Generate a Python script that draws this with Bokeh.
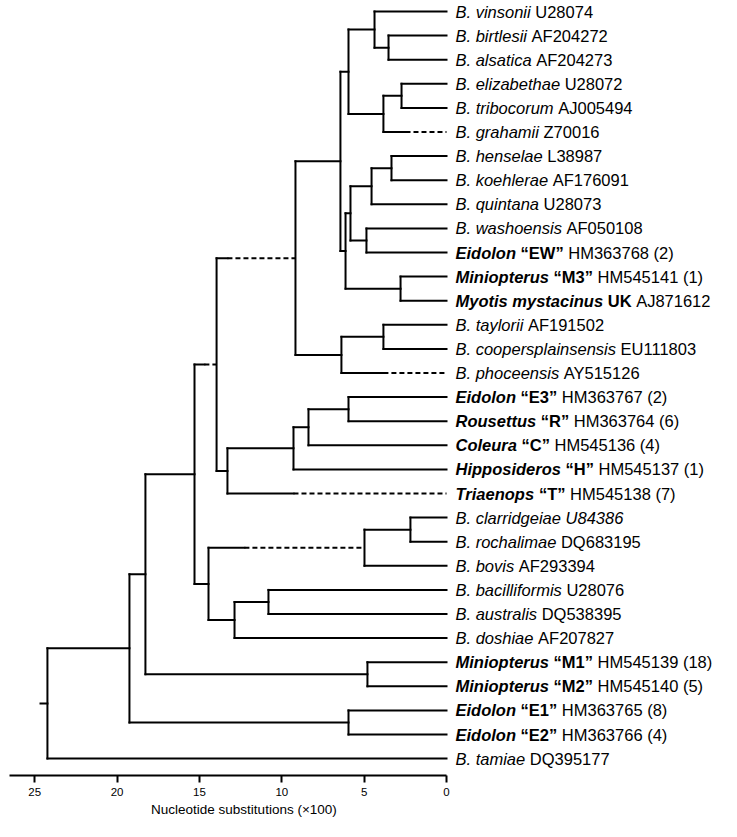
from bokeh.plotting import figure
from bokeh.models import ColumnDataSource, Range1d, FixedTicker, Title
from bokeh.core.properties import value
from bokeh.embed import file_html
from bokeh.resources import INLINE

# ---------------- data ----------------
# leaves, top to bottom
taxa = ["B. vinsonii", "B. birtlesii", "B. alsatica", "B. elizabethae", "B. tribocorum",
        "B. grahamii", "B. henselae", "B. koehlerae", "B. quintana", "B. washoensis",
        "Eidolon", "Miniopterus", "Myotis mystacinus", "B. taylorii", "B. coopersplainsensis",
        "B. phoceensis", "Eidolon", "Rousettus", "Coleura", "Hipposideros", "Triaenops",
        "B. clarridgeiae", "B. rochalimae", "B. bovis", "B. bacilliformis", "B. australis",
        "B. doshiae", "Miniopterus", "Miniopterus", "Eidolon", "Eidolon", "B. tamiae"]
taxon_bold = [False] * 10 + [True, True, True] + [False] * 3 + [True] * 5 + [False] * 6 + [True] * 4 + [False]
tags = [""] * 10 + ["\u201cEW\u201d", "\u201cM3\u201d", "UK"] + [""] * 3 + \
       ["\u201cE3\u201d", "\u201cR\u201d", "\u201cC\u201d", "\u201cH\u201d", "\u201cT\u201d"] + [""] * 6 + \
       ["\u201cM1\u201d", "\u201cM2\u201d", "\u201cE1\u201d", "\u201cE2\u201d", ""]
accessions = ["U28074", "AF204272", "AF204273", "U28072", "AJ005494", "Z70016", "L38987",
              "AF176091", "U28073", "AF050108", "HM363768", "HM545141", "AJ871612", "AF191502",
              "EU111803", "AY515126", "HM363767", "HM363764", "HM545136", "HM545137", "HM545138",
              "U84386", "DQ683195", "AF293394", "U28076", "DQ538395", "AF207827", "HM545139",
              "HM545140", "HM363765", "HM363766", "DQ395177"]
acc_italic = [False] * 21 + [True] + [False] * 10
counts = [""] * 10 + ["(2)", "(1)", ""] + [""] * 3 + ["(2)", "(6)", "(4)", "(1)", "(7)"] + [""] * 6 + \
         ["(18)", "(5)", "(8)", "(4)", ""]

# internal nodes: heights in nucleotide substitutions (x100)
node_names = ["BA", "Vc", "ET", "Ec", "A", "HK", "Z", "WE", "Y", "MM", "X", "Q", "TC", "T", "P",
              "E3R", "W", "U", "S", "R1", "CR", "CRB", "BA2", "H2", "G", "R2", "M", "R3", "EE", "R4", "root"]
node_heights = [3.52, 4.37, 2.73, 3.83, 5.95, 3.34, 4.55, 4.86, 5.83, 2.79, 6.13, 6.44, 3.83, 6.38, 9.17,
                5.95, 8.38, 9.29, 13.30, 13.96, 2.19, 4.98, 10.81, 12.87, 14.45, 15.30, 4.80, 18.28, 5.95, 19.25, 24.23]
node_children = [[1, 2], [0, "BA"], [3, 4], ["ET", 5], ["Vc", "Ec"], [6, 7], ["HK", 8], [9, 10], ["Z", "WE"],
                 [11, 12], ["Y", "MM"], ["A", "X"], [13, 14], ["TC", 15], ["Q", "T"], [16, 17], ["E3R", 18],
                 ["W", 19], ["U", 20], ["P", "S"], [21, 22], ["CR", 23], [24, 25], ["BA2", 26], ["CRB", "H2"],
                 ["R1", "G"], [27, 28], ["R2", "M"], [29, 30], ["R3", "EE"], ["R4", 31]]
# branches drawn dashed: node, height where the solid part ends
dash_nodes = [5, 15, 20, "P", "R1", "CRB"]
dash_solid_to = [2.49, 3.83, 9.29, 13.30, 14.70, 12.27]
root_stub = 24.65

ticks = [0, 5, 10, 15, 20, 25]
axis_title = "Nucleotide substitutions (\u00d7100)"

# ---------------- layout constants ----------------
W, H = 720, 820
FRAME_H = 775
PX_PER_UNIT = 16.47
ZERO_PX = 446.0
ROW_PX = 24.1
TOP_PX = 11.0
FS = 16.5

# ---------------- tree geometry ----------------
height = dict(zip(node_names, node_heights))
children = dict(zip(node_names, node_children))
parent = {}
for n, ch in children.items():
    for c in ch:
        parent[c] = n


def h_of(n):
    return 0.0 if isinstance(n, int) else height[n]


ycache = {}


def y_of(n):
    if isinstance(n, int):
        return float(n)
    if n not in ycache:
        ys = [y_of(c) for c in children[n]]
        ycache[n] = (min(ys) + max(ys)) / 2.0
    return ycache[n]


dash = dict(zip(dash_nodes, dash_solid_to))
solid = dict(x0=[], y0=[], x1=[], y1=[])
dashed = dict(x0=[], y0=[], x1=[], y1=[])


def add(d, x0, y0, x1, y1):
    d["x0"].append(x0); d["y0"].append(y0); d["x1"].append(x1); d["y1"].append(y1)


for n in node_names:
    ys = [y_of(c) for c in children[n]]
    add(solid, height[n], min(ys), height[n], max(ys))
for n, par in parent.items():
    y = y_of(n)
    if n in dash:
        add(solid, height[par], y, dash[n], y)
        add(dashed, dash[n], y, h_of(n), y)
    else:
        add(solid, height[par], y, h_of(n), y)
add(solid, root_stub, y_of("root"), height["root"], y_of("root"))

# ---------------- label text widths (Arial / Liberation Sans metrics) ----------------
UP = "ABCDEFGHIJKLMNOPQRSTUVWXYZ"
LO = "abcdefghijklmnopqrstuvwxyz"
reg = dict(zip(UP, [667, 667, 722, 722, 667, 611, 778, 722, 278, 500, 667, 556, 833, 722, 778, 667, 778, 722, 667,
                    611, 722, 667, 944, 667, 667, 611]))
reg.update(zip(LO, [556, 556, 500, 556, 556, 278, 556, 556, 222, 222, 500, 222, 833, 556, 556, 556, 556, 333, 500,
                    278, 556, 500, 722, 500, 500, 500]))
reg.update({" ": 278, ".": 278, "(": 333, ")": 333, "\u201c": 333, "\u201d": 333})
reg.update({d: 556 for d in "0123456789"})
bold = dict(zip(UP, [722, 722, 722, 722, 667, 611, 778, 722, 278, 556, 722, 611, 833, 722, 778, 667, 778, 722, 667,
                     611, 722, 667, 944, 667, 667, 611]))
bold.update(zip(LO, [556, 611, 556, 611, 556, 333, 611, 611, 278, 278, 556, 278, 889, 611, 611, 611, 611, 389, 556,
                     333, 611, 556, 778, 556, 556, 500]))
bold.update({" ": 278, ".": 278, "(": 333, ")": 333, "\u201c": 500, "\u201d": 500})
bold.update({d: 556 for d in "0123456789"})


def width(s, style):
    tbl = bold if "bold" in style else reg
    return sum(tbl.get(c, 556) for c in s) * FS / 1000.0


segs = {}
for i in range(len(taxa)):
    parts = [(taxa[i], "bold italic" if taxon_bold[i] else "italic")]
    if tags[i]:
        parts.append((tags[i], "bold"))
    parts.append((accessions[i], "italic" if acc_italic[i] else "normal"))
    if counts[i]:
        parts.append((counts[i], "normal"))
    off = 9.0
    for k, (s, st) in enumerate(parts):
        if k > 0:
            off += 278 * FS / 1000.0
        d = segs.setdefault(st, dict(x=[], y=[], text=[], xo=[]))
        d["x"].append(0.0); d["y"].append(float(i)); d["text"].append(s); d["xo"].append(off)
        off += width(s, st)

# ---------------- figure ----------------
x_start = ZERO_PX / PX_PER_UNIT
x_end = (ZERO_PX - W) / PX_PER_UNIT
y_top = -TOP_PX / ROW_PX
y_bottom = (FRAME_H - TOP_PX) / ROW_PX

p = figure(width=W, height=H, x_range=Range1d(x_start, x_end), y_range=Range1d(y_bottom, y_top),
           output_backend="svg", toolbar_location=None, y_axis_location=None,
           min_border_left=0, min_border_right=0, min_border_top=0, min_border_bottom=H - FRAME_H)
p.outline_line_color = None
p.grid.visible = False
p.background_fill_color = "white"
p.border_fill_color = "white"

p.segment(x0="x0", y0="y0", x1="x1", y1="y1", source=ColumnDataSource(solid),
          line_color="black", line_width=2, line_cap="square")
p.segment(x0="x0", y0="y0", x1="x1", y1="y1", source=ColumnDataSource(dashed),
          line_color="black", line_width=2, line_dash="5 3")

for st, d in segs.items():
    p.text(x="x", y="y", text="text", x_offset="xo", source=ColumnDataSource(d),
           text_font=value("Liberation Sans"), text_font_size=value("%gpx" % FS),
           text_font_style=st, text_baseline="middle", text_align="left", text_color="black")

ax = p.xaxis[0]
ax.ticker = FixedTicker(ticks=ticks)
ax.bounds = (0, 26.53)
ax.axis_line_width = 2
ax.axis_line_color = "black"
ax.major_tick_line_width = 2
ax.major_tick_line_color = "black"
ax.major_tick_out = 7
ax.major_tick_in = 0
ax.minor_tick_line_color = None
ax.major_label_text_font = "Liberation Sans"
ax.major_label_text_font_size = "11.5px"
ax.major_label_text_color = "black"
ax.major_label_standoff = 5

title_w = sum(reg.get(c, 584) for c in axis_title) * 13.5 / 1000.0
title_center_px = ZERO_PX - 12.3 * PX_PER_UNIT
p.add_layout(Title(text=axis_title, align="left", offset=title_center_px - title_w / 2,
                   text_font="Liberation Sans", text_font_size="13.5px", text_font_style="normal",
                   text_color="black", standoff=2), "below")

open("out.html", "w").write(file_html(p, INLINE))
